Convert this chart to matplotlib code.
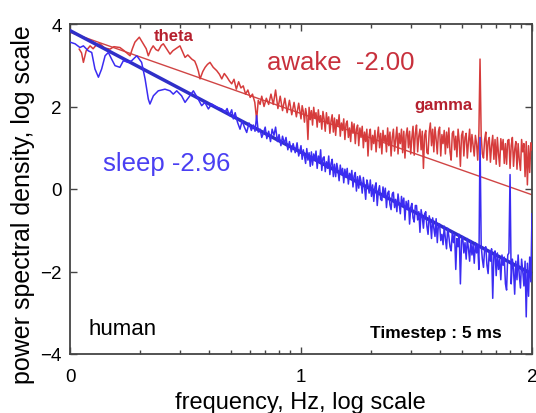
import numpy as np
import matplotlib
matplotlib.use('Agg')
import matplotlib.pyplot as plt

plt.rcParams['font.family'] = ['Liberation Sans', 'DejaVu Sans']

# spektrum - bdeni (awake), nizke frekvence, log10 frekvence vs log10 vykon
awake_x = [0.04, 0.05, 0.058, 0.07, 0.087, 0.10, 0.115, 0.13, 0.15, 0.173, 0.19, 0.216, 0.235, 0.26,
           0.27, 0.281, 0.30, 0.317, 0.33, 0.339, 0.35, 0.36, 0.372, 0.382, 0.395, 0.404, 0.418, 0.433,
           0.445, 0.455, 0.476, 0.488, 0.498, 0.51, 0.527, 0.54, 0.548, 0.556, 0.563, 0.575, 0.585,
           0.595, 0.606, 0.62, 0.635, 0.647, 0.657, 0.668, 0.68, 0.69, 0.70, 0.71, 0.72, 0.73, 0.74,
           0.75, 0.76, 0.77, 0.78, 0.79, 0.80, 0.808, 0.815, 0.823, 0.83, 0.84, 0.85,
           0.86, 0.87, 0.88, 0.89, 0.90, 0.91, 0.92, 0.93, 0.94, 0.95, 0.96, 0.97, 0.98, 0.99]
awake_y = [3.39, 3.30, 3.07, 3.35, 3.47, 3.40, 3.50, 3.52, 3.42, 3.39, 3.45, 3.43, 3.35, 3.23,
           3.40, 3.56, 3.68, 3.52, 3.40, 3.23, 3.38, 3.47, 3.38, 3.35, 3.48, 3.52, 3.40, 3.27,
           3.35, 3.39, 3.47, 3.32, 3.19, 3.25, 3.15, 3.10, 2.99, 2.85, 2.67, 2.85, 2.95,
           3.02, 3.07, 2.95, 2.87, 2.78, 2.67, 2.80, 2.71, 2.62, 2.55, 2.66, 2.42, 2.60, 2.45,
           2.50, 2.30, 2.40, 2.22, 2.30, 2.10, 1.68, 2.15, 2.05, 2.25, 2.00, 2.20,
           2.05, 2.30, 2.05, 2.40, 1.95, 2.25, 1.90, 2.20, 1.85, 2.15, 1.80, 2.10, 1.75, 2.08]

# spektrum - spanek (sleep), nizke frekvence
sleep_x = [0.0, 0.022, 0.043, 0.058, 0.079, 0.094, 0.108, 0.123, 0.137, 0.152, 0.166, 0.18, 0.195,
           0.216, 0.231, 0.252, 0.267, 0.289, 0.31, 0.325, 0.339, 0.346, 0.361, 0.382, 0.411, 0.433,
           0.447, 0.462, 0.483, 0.498, 0.519, 0.534, 0.555, 0.57, 0.584, 0.599, 0.613, 0.635, 0.657,
           0.671, 0.68, 0.69, 0.70, 0.707, 0.715, 0.725, 0.736, 0.745, 0.755, 0.765, 0.775, 0.785,
           0.794, 0.801, 0.808, 0.815, 0.823, 0.83, 0.837, 0.845, 0.852, 0.86, 0.868, 0.875, 0.883,
           0.89, 0.898, 0.905, 0.913, 0.92, 0.928, 0.935, 0.943, 0.95, 0.958, 0.966, 0.975, 0.983, 0.99]
sleep_y = [3.56, 3.52, 3.43, 3.47, 3.35, 3.31, 2.91, 2.71, 2.91, 3.23, 3.31, 3.15, 2.99,
           2.95, 3.11, 3.07, 3.11, 3.23, 3.07, 2.67, 2.18, 2.06, 2.26, 2.38, 2.42, 2.38,
           2.30, 2.38, 2.26, 2.10, 2.26, 2.38, 2.18, 2.02, 2.10, 1.94, 2.06, 1.98, 1.94,
           1.86, 1.95, 1.78, 1.92, 1.70, 1.85, 1.62, 1.45, 1.65, 1.50, 1.37, 1.60, 1.42,
           1.55, 1.40, 1.78, 1.38, 1.45, 1.25, 1.35, 1.50, 1.22, 1.40, 1.15, 1.45, 1.30,
           1.50, 1.15, 1.32, 1.05, 1.28, 1.10, 1.25, 0.95, 1.15, 0.90, 1.10, 0.88, 1.12, 0.80]

# vysoke frekvence: frekvencni biny 1.000 .. 2.000 po 0.005
band_x = np.round(np.arange(1.0, 2.0001, 0.005), 3)
awake_band = [1.70, 2.02, 1.88, 1.62, 1.95, 1.78, 1.20, 1.98, 1.68, 1.90,
              1.55, 1.98, 1.72, 1.85, 1.50, 1.92, 1.62, 1.78, 1.45, 1.88,
              1.70, 1.40, 1.85, 1.58, 1.75, 1.35, 1.65, 1.80, 1.38, 1.72,
              1.30, 1.68, 1.52, 1.80, 1.28, 1.60, 1.42, 1.70, 1.20, 1.58,
              1.65, 1.25, 1.48, 1.15, 1.62, 1.35, 1.58, 1.10, 1.45, 1.55,
              1.05, 1.48, 1.25, 1.52, 1.00, 1.38, 1.15, 1.45, 0.80, 1.30,
              1.45, 0.95, 1.30, 1.10, 1.42, 0.90, 1.25, 1.50, 1.00, 1.35,
              0.85, 1.42, 1.15, 1.30, 0.90, 1.48, 1.05, 1.38, 0.80, 1.25,
              1.45, 0.92, 1.20, 1.50, 0.85, 1.35, 1.10, 1.45, 0.88, 1.40,
              0.75, 1.30, 1.48, 1.00, 1.40, 0.85, 1.25, 1.52, 0.82, 1.35,
              1.55, 0.90, 1.28, 1.45, 0.95, 1.40, 0.50, 1.30, 1.42, 0.88,
              0.85, 1.38, 1.60, 1.05, 1.45, 0.90, 1.50, 1.20, 0.85, 1.40,
              1.50, 0.80, 1.32, 1.10, 1.42, 0.85, 1.38, 1.00, 1.48, 0.90,
              0.70, 1.35, 1.40, 0.95, 1.28, 0.78, 1.45, 1.15, 0.55, 1.30,
              1.40, 0.80, 1.25, 1.35, 0.75, 1.15, 1.45, 0.90, 1.32, 1.05,
              0.80, 1.30, 1.10, 0.70, 1.35, 3.15, 1.30, 0.85, 0.75, 1.20,
              1.38, 0.70, 1.15, 1.25, 0.65, 1.05, 1.30, 0.72, 1.20, 0.60,
              1.25, 0.85, 0.55, 1.22, 0.95, 1.20, 0.62, 1.10, 0.60, 1.18,
              1.20, 0.50, 1.05, 1.25, 0.55, 0.95, 1.15, 0.48, 1.10, 0.70,
              0.45, 1.20, 0.90, 1.10, 0.30, 1.15, 0.10, 1.05, 0.40, 1.12,
              0.95]
sleep_band = [1.05, 0.72, 0.95, 0.80, 0.62, 0.98, 0.70, 0.88, 0.55, 0.90,
              0.58, 0.85, 0.70, 0.92, 0.50, 0.80, 0.65, 0.95, 0.45, 0.75,
              0.78, 0.42, 0.66, 0.50, 0.80, 0.35, 0.62, 0.72, 0.30, 0.60,
              0.30, 0.62, 0.45, 0.20, 0.58, 0.35, 0.50, 0.15, 0.48, 0.28,
              0.50, 0.12, 0.38, 0.25, 0.45, 0.05, 0.32, 0.40, -0.05, 0.30,
              0.02, 0.32, 0.18, -0.10, 0.28, 0.05, -0.25, 0.22, 0.10, -0.10,
              0.22, -0.18, 0.10, -0.30, 0.05, 0.15, -0.40, -0.05, 0.08, -0.25,
              -0.28, 0.05, -0.20, 0.02, -0.45, -0.10, -0.05, -0.38, -0.50, -0.12,
              -0.08, -0.45, -0.25, -0.55, -0.12, -0.35, -0.60, -0.18, -0.40, -0.22,
              -0.75, -0.30, -0.50, -0.28, -0.85, -0.45, -0.35, -0.70, -0.80, -0.40,
              -0.40, -0.75, -0.55, -1.05, -0.50, -0.68, -0.95, -0.60, -0.55, -0.90,
              -1.10, -0.65, -0.80, -1.20, -0.70, -0.95, -1.15, -0.72, -1.30, -0.85,
              -0.85, -1.25, -1.10, -1.35, -0.90, -1.20, -1.45, -0.95, -1.15, -1.40,
              -1.50, -1.05, -1.30, -1.10, -1.95, -1.20, -1.40, -1.10, -2.30, -1.25,
              -1.15, -1.55, -1.30, -1.70, -1.20, -1.45, -1.75, -1.25, -1.60, -1.35,
              -1.80, -1.30, -1.55, -1.35, -1.95, 1.25, -1.35, -1.70, -1.90, -1.45,
              -1.40, -1.85, -2.05, -1.50, -1.75, -1.45, -2.65, -1.60, -1.50, -2.10,
              -1.55, -1.95, -1.70, -2.20, -1.60, -1.85, -1.65, -2.30, -2.45, -1.60,
              -1.55, 0.35, -2.30, -1.70, -1.95, -2.55, -1.75, -2.20, -1.60, -2.10,
              -2.40, -1.70, -2.00, -2.35, -1.75, -3.10, -1.80, -2.60, -1.65, -2.25,
              -0.60]

# fity mocninneho zakona
fit_x = [0, 2]
awake_fit = [3.80, -0.14]
sleep_fit = [3.84, -2.06]

fig = plt.figure(figsize=(5.36, 4.14), dpi=100)
ax = fig.add_axes([70/536, 59/414, 462/536, 330/414])

ax.plot(fit_x, awake_fit, color='#d04545', lw=1.0, zorder=2)
ax.plot(awake_x + list(band_x), awake_y + awake_band, color='#d63c3c', lw=1.1, zorder=3)
ax.plot(fit_x, sleep_fit, color='#2f2fc8', lw=2.5, zorder=4)
ax.plot(sleep_x + list(band_x), sleep_y + sleep_band, color='#3b2cf2', lw=1.1, zorder=5)

ax.set_xlim(0, 2)
ax.set_ylim(-4, 4)
ax.set_xticks([0, 1, 2])
ax.set_yticks([-4, -2, 0, 2, 4])
minor = list(np.log10(range(2, 10))) + list(1 + np.log10(range(2, 10)))
ax.set_xticks(minor, minor=True)
ax.tick_params(which='both', direction='in', top=True, right=True, labelsize=13.5, color='#444444')
ax.tick_params(which='major', length=5, width=1)
ax.tick_params(which='minor', length=3, width=1)
ax.tick_params(axis='x', pad=10)
ax.tick_params(axis='y', pad=6)
for s in ax.spines.values():
    s.set_color('#444444')
    s.set_linewidth(1.3)

ax.set_xlabel('frequency, Hz, log scale', fontsize=17)
ax.set_ylabel('power spectral density, log scale', fontsize=18)
ax.xaxis.set_label_coords(0.498, -0.112)
ax.yaxis.set_label_coords(-0.075, 0.455)

ax.text(0.45, 3.72, 'theta', color='#b5202e', fontsize=12, fontweight='bold', ha='center', va='center')
ax.text(0.853, 3.09, 'awake  -2.00', color='#c8303c', fontsize=18.5, ha='left', va='center')
ax.text(1.49, 2.06, 'gamma', color='#b5202e', fontsize=12, fontweight='bold', ha='left', va='center')
ax.text(0.143, 0.63, 'sleep -2.96', color='#4a3ff2', fontsize=18.5, ha='left', va='center')
ax.text(0.078, -3.37, 'human', color='black', fontsize=16, ha='left', va='center')
ax.text(1.30, -3.47, 'Timestep : 5 ms', color='black', fontsize=12.5, fontweight='bold', ha='left', va='center')

plt.savefig('out.png', dpi=100)
